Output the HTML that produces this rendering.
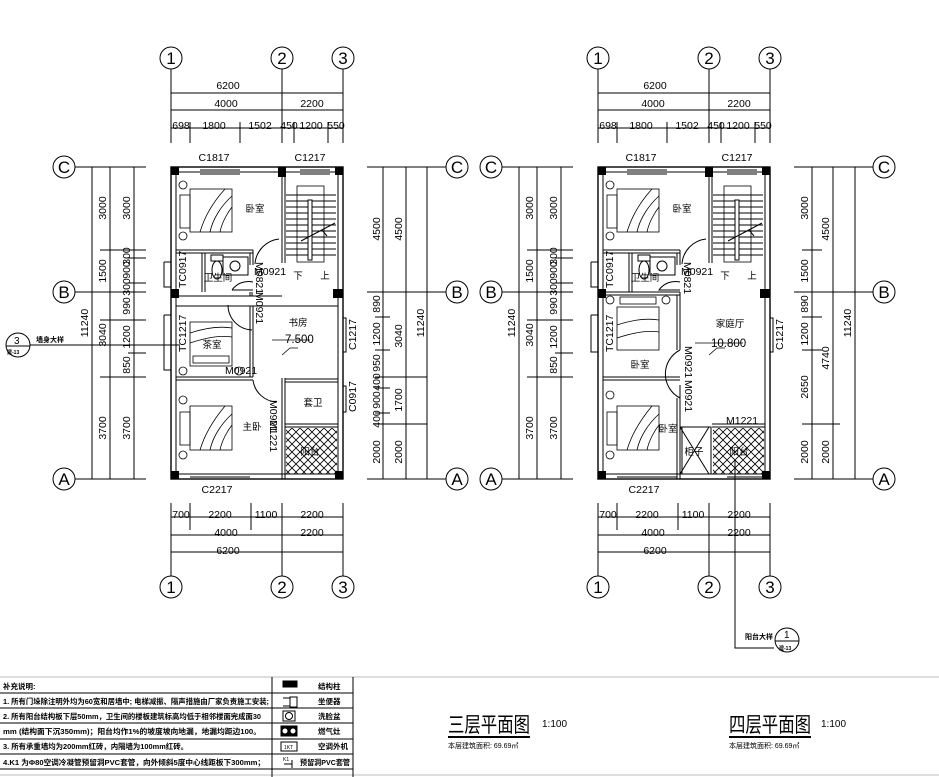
<!DOCTYPE html>
<html><head><meta charset="utf-8"><style>
html,body{margin:0;padding:0;background:#fff;}
svg{display:block;}
text{font-family:"Liberation Sans","Noto Sans CJK SC",sans-serif;fill:#000;}
.d{font-size:10.5px;}
.r{font-size:9.5px;}
.s{font-size:7px;}
</style></head><body>
<svg width="939" height="777" viewBox="0 0 939 777" xmlns="http://www.w3.org/2000/svg">
<defs>
<pattern id="hx" width="8" height="8" patternUnits="userSpaceOnUse">
<path d="M0 0L8 8M8 0L0 8" stroke="#000" stroke-width="0.8"/>
</pattern>
</defs>
<g fill="none" stroke="#000" stroke-width="1">

<g id="L">
<circle cx="171" cy="58" r="11"/><circle cx="282" cy="58" r="11"/><circle cx="343" cy="58" r="11"/>
<path d="M171 69V143M282 69V143M343 69V143"/>
<path d="M171 93H343M171 110H343M171 128H343"/>
<path d="M190 122V143M240 122V143M294 122V143M328 122V143"/>
<path d="M171 503V576M282 503V576M343 503V576M190 503V530M251 503V530"/>
<path d="M171 517H343M171 535H343M171 552H343"/>
<circle cx="171" cy="587" r="11"/><circle cx="282" cy="587" r="11"/><circle cx="343" cy="587" r="11"/>
<circle cx="64" cy="167" r="11"/><circle cx="64" cy="292" r="11"/><circle cx="64" cy="479" r="11"/>
<path d="M75 167H146M75 292H146M75 479H146"/>
<path d="M92 167V479M110 167V479M134 167V479"/>
<path d="M100 250H146M128 258H146M128 283H146M100 320H146M128 353H146M100 377H146"/>
<circle cx="457" cy="167" r="11"/><circle cx="457" cy="292" r="11"/><circle cx="457" cy="479" r="11"/>
<path d="M367 167H446M367 292H446M367 479H446"/>
<path d="M383 167V479M406 167V479M427 167V479"/>
<path d="M375 317H390M375 350H390M375 377H427M375 388H390M375 413H390M375 424H427"/>
<circle cx="18" cy="345" r="12"/><path d="M6 346H30M30 345H180"/>

<rect x="171" y="167" width="172" height="312" stroke-width="1.4"/>
<rect x="176" y="172" width="162" height="302"/>
<path d="M164 262H171M164 262V287H171" />
<path d="M164 315H171M164 315V370H171"/>
<g fill="#000" stroke="none">
<rect x="171" y="167" width="8" height="8"/><rect x="278" y="167" width="8" height="10"/><rect x="335" y="167" width="8" height="8"/>
<rect x="171" y="289" width="8" height="9"/><rect x="333" y="289" width="10" height="9"/>
<rect x="171" y="471" width="8" height="8"/><rect x="335" y="471" width="8" height="8"/>
</g>
<path d="M200 170H240M200 174H240M300 170H330M300 174H330M190 474H250M190 477H250"/>
<path d="M343 318H346V352H343M343 386H346V412H343"/>
<path d="M282 175V263M285 175V263"/>
<rect x="297" y="186" width="27" height="76" stroke-width="0.8"/>
<path d="M286 195H336M286 201H336M286 207H336M286 213H336M286 219H336M286 225H336M286 231H336M286 237H336M286 243H336M286 249H336M286 255H336"/>
<rect x="308" y="200" width="4" height="60" fill="#fff"/>
<path d="M301 241L335 223M322 230L327 236"/>
<path d="M176 250H253M176 253H253M202 253V292M205 253V292M253 250V265M250 253V265"/>
<rect x="223" y="257" width="25" height="18"/><circle cx="235" cy="266" r="5"/>
<ellipse cx="217" cy="270" rx="5" ry="9"/><rect x="211" y="255" width="12" height="6"/>
<path d="M255 264A27 27 0 0 1 279 239"/>
<path d="M253 282A20 20 0 0 0 232 290V290M232 290H253"/>
<path d="M228 305A25 25 0 0 0 252 330"/>
<path d="M253 380A25 25 0 0 0 277 402"/>
<path d="M176 296H282M176 306H338M250 292V296M252 292V296"/>
<path d="M250 306V377M253 306V377M176 377H253M176 380H253"/>
<path d="M282 378V479M285 378V479M285 379H338M285 382H338M285 424H338M285 427H338"/>
<rect x="286" y="428" width="51" height="46" fill="url(#hx)" stroke="none"/>
<g stroke-width="0.8">
<rect x="190" y="189" width="42" height="43"/><rect x="180" y="195" width="10" height="33"/>
<path d="M200 232C205 215 215 200 225 189M210 232C213 218 222 205 232 196M220 232C222 222 228 212 232 207"/>
<circle cx="183" cy="185" r="4"/><circle cx="183" cy="236" r="4"/>
<rect x="190" y="322" width="42" height="44"/><rect x="193" y="356" width="36" height="7"/>
<path d="M190 333C205 328 220 326 232 328M190 343C205 338 220 335 232 337"/>
<circle cx="183" cy="371" r="4"/><circle cx="239" cy="371" r="4"/>
<rect x="190" y="406" width="42" height="44"/><rect x="180" y="412" width="10" height="33"/>
<path d="M200 450C205 433 215 418 225 406M210 450C213 436 222 423 232 414M220 450C222 440 228 430 232 425"/>
<circle cx="183" cy="400" r="4"/><circle cx="183" cy="455" r="4"/>
</g>
<path d="M282 355L290 348H298" stroke-width="0.8"/><path d="M272 340H310" stroke-width="0.8"/>
</g>

<g transform="translate(427,0)">
<circle cx="171" cy="58" r="11"/><circle cx="282" cy="58" r="11"/><circle cx="343" cy="58" r="11"/>
<path d="M171 69V143M282 69V143M343 69V143"/>
<path d="M171 93H343M171 110H343M171 128H343"/>
<path d="M190 122V143M240 122V143M294 122V143M328 122V143"/>
<path d="M171 503V576M282 503V576M343 503V576M190 503V530M251 503V530"/>
<path d="M171 517H343M171 535H343M171 552H343"/>
<circle cx="171" cy="587" r="11"/><circle cx="282" cy="587" r="11"/><circle cx="343" cy="587" r="11"/>
<circle cx="64" cy="167" r="11"/><circle cx="64" cy="292" r="11"/><circle cx="64" cy="479" r="11"/>
<path d="M75 167H146M75 292H146M75 479H146"/>
<path d="M92 167V479M110 167V479M134 167V479"/>
<path d="M100 250H146M128 258H146M128 283H146M100 320H146M128 353H146M100 377H146"/>
<circle cx="457" cy="167" r="11"/><circle cx="457" cy="292" r="11"/><circle cx="457" cy="479" r="11"/>
<path d="M367 167H446M367 292H446M367 479H446"/>
<path d="M385 167V479M406 167V479M428 167V479"/>
<path d="M375 250H395M375 317H395M375 350H395M375 424H413"/>

<rect x="171" y="167" width="172" height="312" stroke-width="1.4"/>
<rect x="176" y="172" width="162" height="302"/>
<path d="M164 262H171M164 262V287H171M164 315H171M164 315V352H171"/>
<g fill="#000" stroke="none">
<rect x="171" y="167" width="8" height="8"/><rect x="278" y="167" width="8" height="10"/><rect x="335" y="167" width="8" height="8"/>
<rect x="171" y="289" width="8" height="9"/><rect x="333" y="289" width="10" height="9"/>
<rect x="171" y="471" width="8" height="8"/><rect x="335" y="471" width="8" height="8"/>
</g>
<path d="M200 170H240M200 174H240M300 170H330M300 174H330M190 474H250M190 477H250M300 474H335M300 477H335"/>
<path d="M343 318H346V352H343"/>
<path d="M282 175V263M285 175V263"/>
<rect x="297" y="186" width="27" height="76" stroke-width="0.8"/>
<path d="M286 195H336M286 201H336M286 207H336M286 213H336M286 219H336M286 225H336M286 231H336M286 237H336M286 243H336M286 249H336M286 255H336"/>
<rect x="308" y="200" width="4" height="60" fill="#fff"/>
<path d="M301 241L335 223M322 230L327 236"/>
<path d="M176 250H253M176 253H253M202 253V292M205 253V292M253 250V265M250 253V265"/>
<rect x="223" y="257" width="25" height="18"/><circle cx="235" cy="266" r="5"/>
<ellipse cx="217" cy="270" rx="5" ry="9"/><rect x="211" y="255" width="12" height="6"/>
<path d="M255 264A27 27 0 0 1 279 239"/>
<path d="M253 282A20 20 0 0 0 232 290H253"/>
<path d="M176 292H253M176 295H253M253 292V350M250 295V350M176 377H253M176 380H253"/>
<path d="M253 350A27 27 0 0 0 253 398"/>
<path d="M253 385V479M250 398V479M253 427H282M253 474H282"/>
<path d="M253 427L282 474M282 427L253 474"/>
<rect x="255" y="427" width="29" height="47"/>
<path d="M285 424H338M285 427H338"/>
<rect x="286" y="428" width="51" height="46" fill="url(#hx)" stroke="none"/>
<g stroke-width="0.8">
<rect x="190" y="189" width="42" height="43"/><rect x="180" y="195" width="10" height="33"/>
<path d="M200 232C205 215 215 200 225 189M210 232C213 218 222 205 232 196M220 232C222 222 228 212 232 207"/>
<circle cx="183" cy="185" r="4"/><circle cx="183" cy="236" r="4"/>
<rect x="190" y="307" width="42" height="43"/><rect x="193" y="297" width="36" height="7"/>
<circle cx="183" cy="300" r="4"/><circle cx="239" cy="300" r="4"/>
<path d="M190 325C205 320 220 318 232 320M190 338C205 333 220 330 232 332"/>
<rect x="190" y="406" width="42" height="44"/><rect x="180" y="412" width="10" height="33"/>
<path d="M200 450C205 433 215 418 225 406M210 450C213 436 222 423 232 414M220 450C222 440 228 430 232 425"/>
<circle cx="183" cy="395" r="4"/><circle cx="183" cy="455" r="4"/>
</g>
<path d="M282 355L290 348H298" stroke-width="0.8"/><path d="M268 343H316" stroke-width="0.8"/>
<path d="M308 460V648H347"/>
<circle cx="360" cy="640" r="12"/><path d="M348 641H372"/>
</g>

<g stroke="#bbb"><path d="M0 677H939M0 775H939"/></g>
<path d="M0 693H353M0 708H353M0 723H353M0 739H353M0 754H353M0 769H353M272 677V777M353 677V777"/>
<rect x="283" y="681" width="14" height="6" fill="#000"/>
<path d="M448 737H530M729 737H811" stroke-width="2"/>
</g>

<g class="d" text-anchor="middle">
<text x="228" y="89">6200</text><text x="655" y="89">6200</text>
<text x="226" y="107">4000</text><text x="312" y="107">2200</text>
<text x="653" y="107">4000</text><text x="739" y="107">2200</text>
<text x="181" y="129">698</text><text x="214" y="129">1800</text><text x="260" y="129">1502</text><text x="289" y="129">450</text><text x="311" y="129">1200</text><text x="336" y="129">550</text>
<text x="608" y="129">698</text><text x="641" y="129">1800</text><text x="687" y="129">1502</text><text x="716" y="129">450</text><text x="738" y="129">1200</text><text x="763" y="129">550</text>
<text x="181" y="518">700</text><text x="220" y="518">2200</text><text x="266" y="518">1100</text><text x="312" y="518">2200</text>
<text x="608" y="518">700</text><text x="647" y="518">2200</text><text x="693" y="518">1100</text><text x="739" y="518">2200</text>
<text x="226" y="536">4000</text><text x="312" y="536">2200</text><text x="653" y="536">4000</text><text x="739" y="536">2200</text>
<text x="228" y="554">6200</text><text x="655" y="554">6200</text>
<text x="214" y="161">C1817</text><text x="310" y="161">C1217</text><text x="641" y="161">C1817</text><text x="737" y="161">C1217</text>
<text x="217" y="493">C2217</text><text x="644" y="493">C2217</text>
</g>
<g font-size="17" text-anchor="middle" font-family="Liberation Serif">
<text x="171" y="64">1</text><text x="282" y="64">2</text><text x="343" y="64">3</text>
<text x="598" y="64">1</text><text x="709" y="64">2</text><text x="770" y="64">3</text>
<text x="171" y="593">1</text><text x="282" y="593">2</text><text x="343" y="593">3</text>
<text x="598" y="593">1</text><text x="709" y="593">2</text><text x="770" y="593">3</text>
<text x="64" y="173">C</text><text x="64" y="298">B</text><text x="64" y="485">A</text>
<text x="457" y="173">C</text><text x="457" y="298">B</text><text x="457" y="485">A</text>
<text x="491" y="173">C</text><text x="491" y="298">B</text><text x="491" y="485">A</text>
<text x="884" y="173">C</text><text x="884" y="298">B</text><text x="884" y="485">A</text>
</g>
<g class="d" text-anchor="middle">
<text transform="translate(88,323) rotate(-90)">11240</text>
<text transform="translate(106,208) rotate(-90)">3000</text>
<text transform="translate(106,271) rotate(-90)">1500</text>
<text transform="translate(106,335) rotate(-90)">3040</text>
<text transform="translate(106,428) rotate(-90)">3700</text>
<text transform="translate(130,208) rotate(-90)">3000</text>
<text transform="translate(130,256) rotate(-90)">300</text>
<text transform="translate(130,270) rotate(-90)">900</text>
<text transform="translate(130,287) rotate(-90)">300</text>
<text transform="translate(130,306) rotate(-90)">990</text>
<text transform="translate(130,337) rotate(-90)">1200</text>
<text transform="translate(130,365) rotate(-90)">850</text>
<text transform="translate(130,428) rotate(-90)">3700</text>
<text transform="translate(380,229) rotate(-90)">4500</text>
<text transform="translate(402,229) rotate(-90)">4500</text>
<text transform="translate(380,304) rotate(-90)">890</text>
<text transform="translate(380,334) rotate(-90)">1200</text>
<text transform="translate(380,363) rotate(-90)">950</text>
<text transform="translate(380,382) rotate(-90)">400</text>
<text transform="translate(380,400) rotate(-90)">900</text>
<text transform="translate(380,419) rotate(-90)">400</text>
<text transform="translate(380,452) rotate(-90)">2000</text>
<text transform="translate(402,336) rotate(-90)">3040</text>
<text transform="translate(402,400) rotate(-90)">1700</text>
<text transform="translate(402,452) rotate(-90)">2000</text>
<text transform="translate(424,323) rotate(-90)">11240</text>
<text transform="translate(515,323) rotate(-90)">11240</text>
<text transform="translate(533,208) rotate(-90)">3000</text>
<text transform="translate(533,271) rotate(-90)">1500</text>
<text transform="translate(533,335) rotate(-90)">3040</text>
<text transform="translate(533,428) rotate(-90)">3700</text>
<text transform="translate(557,208) rotate(-90)">3000</text>
<text transform="translate(557,256) rotate(-90)">300</text>
<text transform="translate(557,270) rotate(-90)">900</text>
<text transform="translate(557,287) rotate(-90)">300</text>
<text transform="translate(557,306) rotate(-90)">990</text>
<text transform="translate(557,337) rotate(-90)">1200</text>
<text transform="translate(557,365) rotate(-90)">850</text>
<text transform="translate(557,428) rotate(-90)">3700</text>
<text transform="translate(808,208) rotate(-90)">3000</text>
<text transform="translate(808,271) rotate(-90)">1500</text>
<text transform="translate(808,304) rotate(-90)">890</text>
<text transform="translate(808,334) rotate(-90)">1200</text>
<text transform="translate(808,387) rotate(-90)">2650</text>
<text transform="translate(808,452) rotate(-90)">2000</text>
<text transform="translate(829,229) rotate(-90)">4500</text>
<text transform="translate(829,358) rotate(-90)">4740</text>
<text transform="translate(829,452) rotate(-90)">2000</text>
<text transform="translate(851,323) rotate(-90)">11240</text>
</g>
<g class="d">
<text x="254" y="275">M0921</text><text x="681" y="275">M0921</text>
<text x="225" y="374">M0921</text>
<text transform="translate(256,262) rotate(90)">M0821</text>
<text transform="translate(256,292) rotate(90)">M0921</text>
<text transform="translate(684,262) rotate(90)">M0821</text>
<text transform="translate(270,400) rotate(90)">M0921</text>
<text transform="translate(270,420) rotate(90)">M1221</text>
<text transform="translate(685,346) rotate(90)">M0921</text>
<text transform="translate(685,380) rotate(90)">M0921</text>
<text x="726" y="424">M1221</text>
<text transform="translate(186,288) rotate(-90)">TC0917</text>
<text transform="translate(186,352) rotate(-90)">TC1217</text>
<text transform="translate(613,288) rotate(-90)">TC0917</text>
<text transform="translate(613,352) rotate(-90)">TC1217</text>
<text transform="translate(356,350) rotate(-90)">C1217</text>
<text transform="translate(356,412) rotate(-90)">C0917</text>
<text transform="translate(783,350) rotate(-90)">C1217</text>
<text x="285" y="343" font-size="11.5">7.500</text><text x="711" y="347" font-size="11.5">10.800</text>
</g>
<g class="r" text-anchor="middle">
<text x="255" y="212">卧室</text><text x="682" y="212">卧室</text>
<text x="218" y="281">卫生间</text><text x="645" y="281">卫生间</text>
<text x="298" y="279">下</text><text x="325" y="279">上</text><text x="725" y="279">下</text><text x="752" y="279">上</text>
<text x="298" y="326">书房</text><text x="730" y="327">家庭厅</text>
<text x="212" y="348">茶室</text><text x="640" y="368">卧室</text>
<text x="313" y="406">套卫</text><text x="252" y="430">主卧</text><text x="668" y="432">卧室</text>
<text x="310" y="455">阳台</text><text x="739" y="455">阳台</text><text x="694" y="455">柜子</text>
</g>
<g class="s" font-weight="bold">
<text x="36" y="342">墙身大样</text>
<text x="745" y="639">阳台大样</text>
<text x="7" y="354" font-size="5">建-13</text>
<text x="779" y="650" font-size="5">建-13</text>
</g>
<text x="14" y="344" font-size="10">3</text><text x="784" y="638" font-size="10">1</text>
<g font-size="7.5" font-weight="bold">
<text x="3" y="689">补充说明:</text>
<text x="3" y="704" textLength="266" lengthAdjust="spacingAndGlyphs">1. 所有门垛除注明外均为60宽和居墙中;  电梯减振、隔声措施由厂家负责施工安装;</text>
<text x="3" y="719" textLength="258" lengthAdjust="spacingAndGlyphs">2. 所有阳台结构板下层50mm，卫生间的楼板建筑标高均低于相邻楼面完成面30</text>
<text x="3" y="734" textLength="258" lengthAdjust="spacingAndGlyphs">mm (结构面下沉350mm)；阳台均作1%的坡度坡向地漏，地漏均距边100。</text>
<text x="3" y="749" textLength="185" lengthAdjust="spacingAndGlyphs">3. 所有承重墙均为200mm红砖，内隔墙为100mm红砖。</text>
<text x="3" y="765" textLength="262" lengthAdjust="spacingAndGlyphs">4.K1 为Φ80空调冷凝管预留洞PVC套管，向外倾斜5度中心线距板下300mm；</text>
<text x="318" y="689">结构柱</text><text x="318" y="704">坐便器</text><text x="318" y="719">洗脸盆</text>
<text x="318" y="734">燃气灶</text><text x="318" y="749">空调外机</text><text x="300" y="765" textLength="50" lengthAdjust="spacingAndGlyphs">预留洞PVC套管</text>
</g>
<g fill="none" stroke="#000">
<path d="M283 698H290V706H283M290 697V707H297V697Z"/>
<rect x="283" y="711" width="12" height="10"/><circle cx="289" cy="716" r="3.5"/>
<rect x="281" y="726" width="16" height="10" fill="#000"/>
<rect x="281" y="742" width="16" height="9"/><path d="M284 764H292M292 760V768"/>
</g>
<circle cx="285" cy="731" r="2.5" fill="#fff"/><circle cx="293" cy="731" r="2.5" fill="#fff"/>
<text x="284" y="749" font-size="5">1KT</text><text x="283" y="761" font-size="5">K1</text>
<text x="448" y="732" font-size="21" textLength="82" lengthAdjust="spacingAndGlyphs">三层平面图</text><text x="542" y="727" font-size="10">1:100</text>
<text x="448" y="748" font-size="7">本层建筑面积: 69.69㎡</text>
<text x="729" y="732" font-size="21" textLength="82" lengthAdjust="spacingAndGlyphs">四层平面图</text><text x="821" y="727" font-size="10">1:100</text>
<text x="729" y="748" font-size="7">本层建筑面积: 69.69㎡</text>
</svg>
</body></html>
